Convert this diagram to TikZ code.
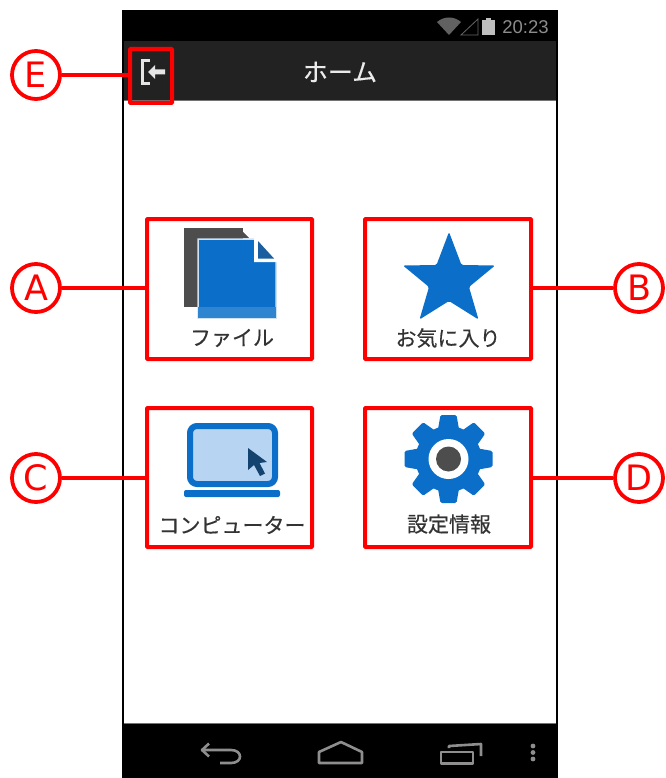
\documentclass[tikz,border=0pt]{standalone}
\usepackage{fontspec}
\setmainfont{DejaVu Sans}
\newfontfamily\jp[FakeBold=0.35]{Noto Sans CJK JP}
\newfontfamily\lat{Liberation Sans}
\definecolor{appblue}{HTML}{0B6FC9}
\definecolor{darkfold}{HTML}{1C5F9E}
\definecolor{lightblue}{HTML}{B7D5F2}
\definecolor{darkgrey}{HTML}{4D4D4D}
\definecolor{barbg}{HTML}{222222}
\definecolor{navgrey}{HTML}{8E8E8E}
\tikzset{
  redbox/.style={draw=red,line width=4pt,rounded corners=0.6pt,fill=none},
  callout/.style={circle,draw=red,line width=3.8pt,fill=white,minimum size=48pt,inner sep=0pt,font=\fontsize{35}{35}\selectfont,text=red},
  link/.style={draw=red,line width=3.5pt},
  caption/.style={font=\jp\fontsize{21}{21}\selectfont,text=black!80,inner sep=0pt},
  navline/.style={draw=navgrey,line width=2.6pt,line join=round},
}
\begin{document}
\begin{tikzpicture}[x=1pt,y=-1pt]
\useasboundingbox (0,0) rectangle (665,778);
\fill[white] (0,0) rectangle (665,778);
% phone
\fill[black] (122,10) rectangle (558,778);
\fill[barbg] (124,41) rectangle (556,100);
\fill[white] (124,101) rectangle (556,723);
\fill[black!55] (124,100) rectangle (556,101.5);
\fill[black!55] (124,722.5) rectangle (556,724);
% status bar
\fill[navgrey!140] (449,35) -- (437,22) .. controls (444,16) and (454,16) .. (461,22) -- cycle;
\draw[black!60,line width=0.8pt] (461,35) -- (478,35) -- (478,19) -- cycle;
\fill[black!25] (482,20) rectangle (495,35);
\fill[black!25] (486,18) rectangle (491,20);
\node[font=\lat\fontsize{18.5}{18.5}\selectfont,text=black!45,inner sep=0pt] (clock) at (525.5,27) {20:23};
% app bar
\node[font=\jp\fontsize{25}{25}\selectfont,text=white!92!black,inner sep=0pt] (title) at (340,72) {ホーム};
\draw[white!90!black,line width=3pt] (150,60.5) -- (142.5,60.5) -- (142.5,84) -- (150,84);
\fill[white!90!black] (148,72) -- (155,65) -- (155,69.5) -- (165,69.5) -- (165,74.5) -- (155,74.5) -- (155,79) -- cycle;
% file icon
\fill[darkgrey] (184,228) rectangle (243,307);
\fill[darkgrey] (243,232) -- (249,238) -- (243,238) -- cycle;
\fill[appblue,draw=white!80!appblue,line width=1.5pt] (198,239) -- (255,239) -- (276,260) -- (276,318) -- (198,318) -- cycle;
\fill[appblue!85!white] (198,307) rectangle (276,318);
\fill[white] (254,237) -- (257,237) -- (278,258) -- (278,262) -- (254,262) -- cycle;
\fill[darkfold] (258,241) -- (274,258.5) -- (258,258.5) -- cycle;
\node[caption] (cfile) at (232,338) {ファイル};
% star
\fill[appblue,rounded corners=1.5pt] (449,232)
  -- (461.5,265) -- (495,265.5) -- (469,287) -- (478.5,319.5)
  -- (449,301) -- (419.5,319.5) -- (429,287) -- (403,265.5) -- (436.5,265) -- cycle;
\node[caption] (cfav) at (448,338) {お気に入り};
% laptop
\draw[appblue,fill=lightblue,line width=6pt,rounded corners=7pt] (190,426) rectangle (275,484);
\fill[appblue,rounded corners=2pt] (184,490) rectangle (280,497);
\fill[darkfold!70!black] (248,448) -- (248,470) -- (254,465) -- (260,476) -- (265,473.5) -- (259.5,463) -- (267,462) -- cycle;
\node[caption] (ccomp) at (232,525) {コンピューター};
% gear
\foreach \a in {0,45,...,315}{
  \fill[appblue,rotate around={\a:(448.5,459)},rounded corners=1.5pt] (440.5,415) -- (456.5,415) -- (459.5,432) -- (437.5,432) -- cycle;
}
\fill[appblue] (448.5,459) circle[radius=33];
\fill[white] (448.5,459) circle[radius=20];
\fill[darkgrey] (448.5,459) circle[radius=12.5];
\node[caption] (cset) at (449,524) {設定情報};
% red boxes
\node[redbox,minimum width=165pt,minimum height=140pt,inner sep=0pt] (boxA) at (229.5,289) {};
\node[redbox,minimum width=166pt,minimum height=140pt,inner sep=0pt] (boxB) at (448,289) {};
\node[redbox,minimum width=165pt,minimum height=139pt,inner sep=0pt] (boxC) at (229.5,477.5) {};
\node[redbox,minimum width=166pt,minimum height=139pt,inner sep=0pt] (boxD) at (448,477.5) {};
\node[redbox,minimum width=42pt,minimum height=54pt,inner sep=0pt] (boxE) at (151,76) {};
% callouts
\node[callout] (A) at (36,288) {A};
\node[callout] (B) at (639,288) {B};
\node[callout] (C) at (36,478) {C};
\node[callout] (D) at (639,478) {D};
\node[callout] (E) at (36,75) {E};
\draw[link] (A) -- (A -| boxA.west);
\draw[link] (B) -- (B -| boxB.east);
\draw[link] (C) -- (C -| boxC.west);
\draw[link] (D) -- (D -| boxD.east);
\draw[link] (E) -- (E -| boxE.west);
% nav bar
\draw[navline] (202,750) -- (231,750) .. controls (243,750) and (243,763) .. (231,763) -- (220,763);
\draw[navline] (209,743.5) -- (202,750) -- (209,756.5);
\draw[navline] (319,763) -- (319,752) -- (341,742) -- (362,752) -- (362,763) -- cycle;
\draw[navline] (441,752) rectangle (473,763.5);
\draw[navline] (449,748) -- (449,746) -- (481,744) -- (481,756);
\fill[navgrey] (533,746) circle[radius=2.4] (533,752.5) circle[radius=2.4] (533,759) circle[radius=2.4];
\end{tikzpicture}
\end{document}
